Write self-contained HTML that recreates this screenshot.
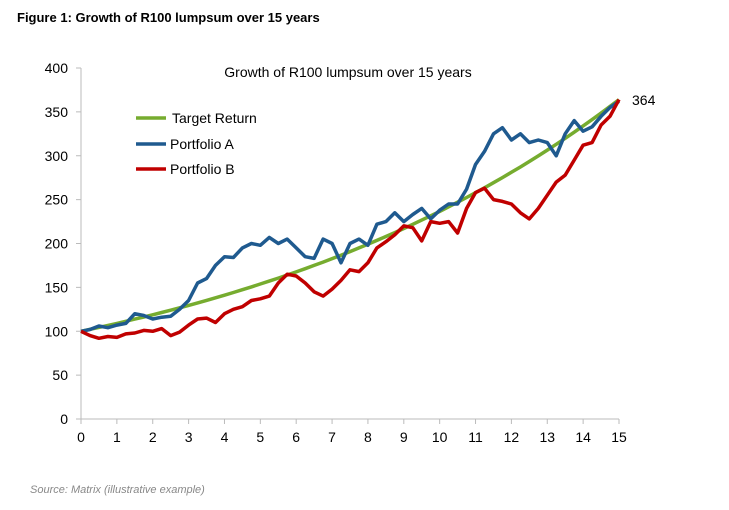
<!DOCTYPE html>
<html><head><meta charset="utf-8">
<style>
body{margin:0;background:#fff;width:729px;height:505px;overflow:hidden;font-family:"Liberation Sans",Arial,sans-serif;}
</style></head>
<body>
<svg id="chart" width="729" height="505" xmlns="http://www.w3.org/2000/svg" font-family="Liberation Sans, Arial, sans-serif">
<text x="17" y="22" font-size="13" font-weight="bold" fill="#000">Figure 1: Growth of R100 lumpsum over 15 years</text>
<text x="348" y="77" font-size="14" text-anchor="middle" fill="#000">Growth of R100 lumpsum over 15 years</text>
<text x="30" y="493" font-size="11" font-style="italic" fill="#888">Source: Matrix (illustrative example)</text>
<g id="axes"></g>
<g id="series"></g>
<g>
<line x1="136" y1="118" x2="166" y2="118" stroke="#76ac2f" stroke-width="3.5"/>
<text x="172" y="123" font-size="14">Target Return</text>
<line x1="136" y1="144" x2="166" y2="144" stroke="#1f5a8f" stroke-width="3.5"/>
<text x="170" y="149" font-size="14">Portfolio A</text>
<line x1="136" y1="169" x2="166" y2="169" stroke="#c00000" stroke-width="3.5"/>
<text x="170" y="174" font-size="14">Portfolio B</text>
</g>
<text x="632" y="105" font-size="14">364</text>
</svg>
<script>
const xTicks=[0,1,2,3,4,5,6,7,8,9,10,11,12,13,14,15];
const yTicks=[0,50,100,150,200,250,300,350,400];
const times=[0,0.25,0.5,0.75,1,1.25,1.5,1.75,2,2.25,2.5,2.75,3,3.25,3.5,3.75,4,4.25,4.5,4.75,5,5.25,5.5,5.75,6,6.25,6.5,6.75,7,7.25,7.5,7.75,8,8.25,8.5,8.75,9,9.25,9.5,9.75,10,10.25,10.5,10.75,11,11.25,11.5,11.75,12,12.25,12.5,12.75,13,13.25,13.5,13.75,14,14.25,14.5,14.75,15];
const portfolioA=[100,102,106,104,107,109,120,118,114,116,117,125,135,155,160,175,185,184,195,200,198,207,200,205,195,185,183,205,200,178,200,205,198,222,225,235,225,233,240,228,238,245,245,262,290,305,325,332,318,325,315,318,315,300,325,340,328,333,345,355,362];
const portfolioB=[100,95,92,94,93,97,98,101,100,103,95,99,107,114,115,110,120,125,128,135,137,140,155,165,163,155,145,140,148,158,170,168,178,195,202,210,220,218,203,225,223,225,212,240,258,263,250,248,245,235,228,240,255,270,278,295,312,315,335,345,364];
const targetStart=100, targetEnd=364;
const X=t=>81+t*(619-81)/15;
const Y=v=>419-v*(419-68)/400;
const NS="http://www.w3.org/2000/svg";
const axes=document.getElementById('axes'), ser=document.getElementById('series');
function mk(tag,attrs,parent){const e=document.createElementNS(NS,tag);for(const k in attrs)e.setAttribute(k,attrs[k]);parent.appendChild(e);return e;}
let yl=mk('line',{x1:81,y1:68,x2:81,y2:419,stroke:'#bbb','stroke-width':1},axes);


let xl=mk('line',{x1:81,y1:419,x2:619,y2:419,stroke:'#bbb','stroke-width':1},axes);


yTicks.forEach(v=>{mk('line',{x1:76,y1:Y(v),x2:81,y2:Y(v),stroke:'#bbb'},axes);
 const t=mk('text',{x:68,y:Y(v)+5,'font-size':14,'text-anchor':'end'},axes);t.textContent=v;
 
 });
xTicks.forEach(v=>{mk('line',{x1:X(v),y1:419,x2:X(v),y2:424,stroke:'#bbb'},axes);
 const t=mk('text',{x:X(v),y:442,'font-size':14,'text-anchor':'middle'},axes);t.textContent=v;
 
 });
function line(vals,color,name){const d=vals.map((v,i)=>(i?'L':'M')+X(times[i]).toFixed(1)+','+Y(v).toFixed(1)).join('');
 const p=mk('path',{d:d,fill:'none',stroke:color,'stroke-width':3.5,'stroke-linejoin':'round'},ser);
 
 }
const target=times.map(t=>targetStart*Math.pow(targetEnd/targetStart,t/15));
line(target,'#76ac2f','target-return-line');
line(portfolioA,'#1f5a8f','portfolio-a-line');
line(portfolioB,'#c00000','portfolio-b-line');
</script>
</body></html>
